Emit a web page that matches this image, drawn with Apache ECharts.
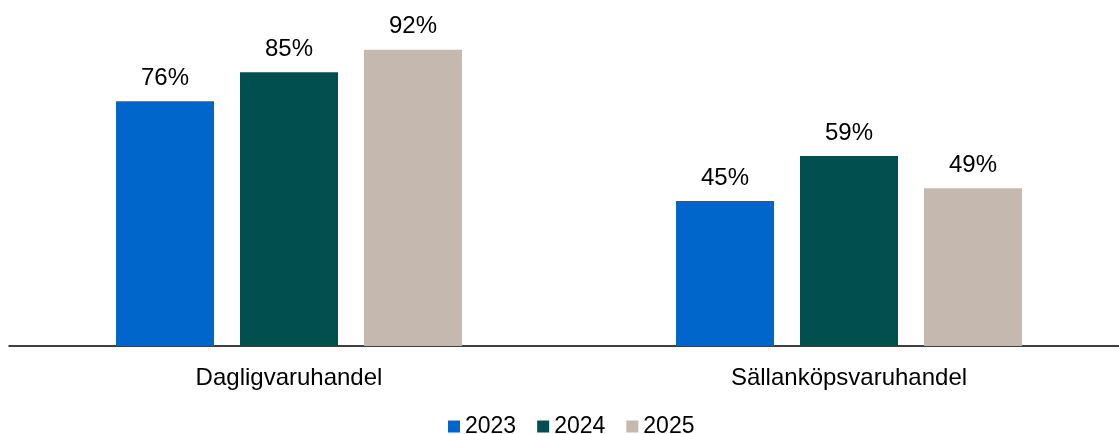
<!DOCTYPE html>
<html>
<head>
<meta charset="utf-8">
<script src="https://cdn.jsdelivr.net/npm/echarts@6/dist/echarts.min.js"></script>
<style>html,body{margin:0;padding:0;background:#fff}#c{width:1119px;height:434px}</style>
</head>
<body>
<div id="c"></div>
<script>
const categories = ['Dagligvaruhandel', 'Sällanköpsvaruhandel'];
const years = ['2023', '2024', '2025'];
const values2023 = [76, 45];
const values2024 = [85, 59];
const values2025 = [92, 49];
const colors = ['#0066CC', '#024F4F', '#C5B8AF'];

const seriesData = [values2023, values2024, values2025];
const font = 'Arial, "Liberation Sans", sans-serif';
const chart = echarts.init(document.getElementById('c'));
chart.setOption({
  animation: false,
  color: colors,
  grid: { left: 9, width: 1120, top: 24, bottom: 88, containLabel: false, outerBoundsMode: 'none' },
  legend: {
    data: years,
    left: 443,
    top: 410,
    itemWidth: 12,
    itemHeight: 12,
    itemGap: 21,
    icon: 'rect',
    textStyle: { fontFamily: font, fontSize: 23, color: '#000' }
  },
  xAxis: {
    type: 'category',
    data: categories,
    axisLine: { lineStyle: { color: '#000', width: 1.5 } },
    axisTick: { show: false },
    axisLabel: { fontFamily: font, fontSize: 24, color: '#000', margin: 20 }
  },
  yAxis: {
    type: 'value',
    min: 0,
    max: 100,
    show: false,
    splitLine: { show: false }
  },
  series: years.map((y, i) => ({
    name: y,
    type: 'bar',
    data: seriesData[i],
    barWidth: 98,
    barGap: '26.5%',
    label: {
      show: true,
      position: 'top',
      distance: 11,
      formatter: '{c}%',
      fontFamily: font,
      fontSize: 24,
      color: '#000'
    }
  }))
});
</script>
</body>
</html>
